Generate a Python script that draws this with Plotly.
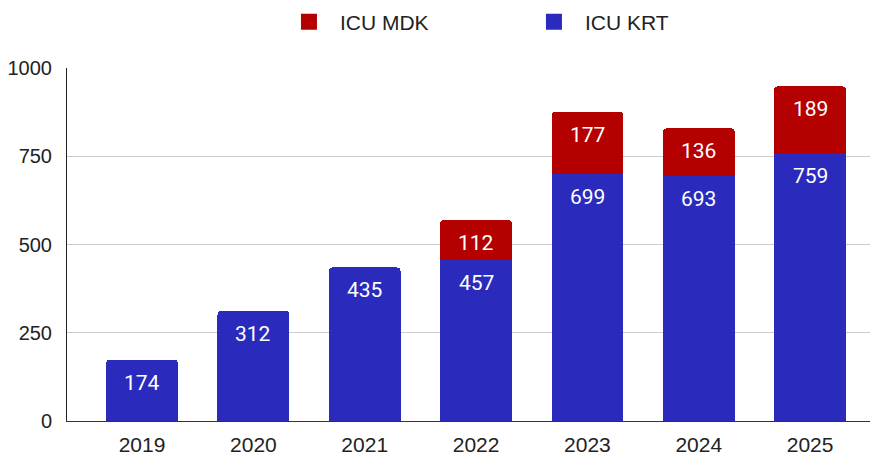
import plotly.graph_objects as go

years = ["2019", "2020", "2021", "2022", "2023", "2024", "2025"]
krt = [174, 312, 435, 457, 699, 693, 759]
mdk = [None, None, None, 112, 177, 136, 189]
y_ticks = [0, 250, 500, 750, 1000]

BLUE = "#2a2bbd"
RED = "#b50000"

fig = go.Figure()
fig.add_trace(go.Bar(x=years, y=krt, marker=dict(color=BLUE, line=dict(width=0)),
                     width=0.645, showlegend=False, name="ICU KRT"))
fig.add_trace(go.Bar(x=years, y=mdk, marker=dict(color=RED, line=dict(width=0)),
                     width=0.645, showlegend=False, name="ICU MDK"))

# legend proxies
fig.add_trace(go.Scatter(x=[None], y=[None], mode="markers", name="ICU MDK",
                         marker=dict(symbol="square", size=22, color=RED)))
fig.add_trace(go.Scatter(x=[None], y=[None], mode="markers", name="ICU KRT",
                         marker=dict(symbol="square", size=22, color=BLUE)))

annotations = []
for i, (k, m) in enumerate(zip(krt, mdk)):
    annotations.append(dict(x=i, y=k, text=str(k), showarrow=False, yshift=-23,
                            font=dict(family="Roboto", size=21, color="white")))
    if m is not None:
        annotations.append(dict(x=i, y=k + m, text=str(m), showarrow=False, yshift=-23,
                                font=dict(family="Roboto", size=21, color="white")))

# page body has an 8px margin: figure is sized/offset to fill the 878x460 window
fig.update_layout(
    barmode="stack",
    barcornerradius=4,
    width=870, height=452,
    margin=dict(l=59, r=0, t=60, b=39),
    plot_bgcolor="white", paper_bgcolor="white",
    font=dict(family="Liberation Sans, Arial", size=21, color="#222"),
    annotations=annotations,
    legend=dict(orientation="h", xref="container", yref="container",
                x=0.3103, xanchor="left", y=0.969, yanchor="middle",
                traceorder="normal",
                font=dict(size=21, color="#222"), itemwidth=52,
                entrywidthmode="pixels", entrywidth=178),
    xaxis=dict(type="category", range=[-0.674, 6.61], showgrid=False, showline=True,
               linecolor="#333", linewidth=1, ticks="", ticklabelstandoff=5,
               automargin=False, tickfont=dict(size=21, color="#222")),
    yaxis=dict(range=[0, 1000], tickvals=y_ticks, showgrid=True, gridcolor="#cccccc",
               gridwidth=1, showline=True, linecolor="#222", linewidth=1, zeroline=False,
               ticks="", ticklabelstandoff=10, automargin=False,
               tickfont=dict(size=20, color="#222")),
)

fig.write_html("out.html")
